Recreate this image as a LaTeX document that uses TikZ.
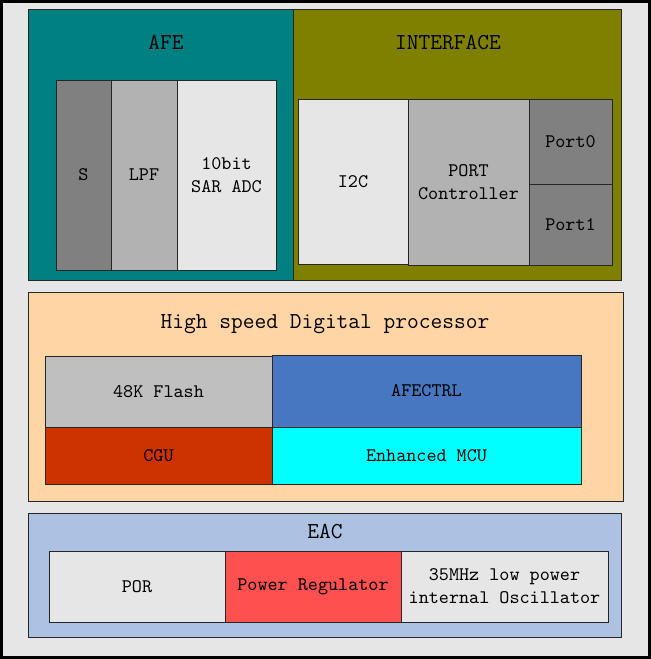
\documentclass[tikz,border=0pt]{standalone}
\usepackage{tikz}
\definecolor{bggray}{HTML}{E6E6E6}
\definecolor{afeteal}{HTML}{008080}
\definecolor{ifolive}{HTML}{808000}
\definecolor{dspeach}{HTML}{FFD5A5}
\definecolor{eacblue}{HTML}{ADC2E3}
\definecolor{flashgray}{HTML}{BFBFBF}
\definecolor{cgured}{HTML}{CC3300}
\definecolor{ctrlblue}{HTML}{4677C0}
\definecolor{mcucyan}{HTML}{00FFFF}
\definecolor{prred}{HTML}{FF5050}
\tikzset{
  blk/.style 2 args={draw=black!85,line width=0.5pt,inner sep=0pt,outer sep=0pt,anchor=north west,align=center,
    minimum width=#1*0.5pt,minimum height=#2*0.5pt,font=\ttfamily\fontsize{9.6}{11.5}\selectfont},
  ttl/.style={inner sep=0pt,font=\ttfamily\fontsize{11.4}{13}\selectfont}
}
\begin{document}
\begin{tikzpicture}[x=0.5pt,y=-0.5pt]
      \useasboundingbox (0,0) rectangle (651,659);
      \draw[line width=1.6pt,fill=bggray] (1.6,1.6) rectangle (649.4,657.4);

      \node[blk={265}{271},fill=afeteal] (afe) at (28,9) {};
      \node[blk={328}{271},fill=ifolive] (iface) at (293,9) {};
      \node[ttl] (afet) at (166,42) {AFE};
      \node[ttl] (ifacet) at (448,43) {INTERFACE};
      \node[blk={55}{190},fill=gray] (s) at (56,80) {S};
      \node[blk={66}{190},fill=black!30] (lpf) at (s.north east) {LPF};
      \node[blk={99}{190},fill=bggray] (adc) at (lpf.north east) {10bit\\SAR ADC};
      \node[blk={110}{165},fill=bggray] (i2c) at (298,99) {I2C};
      \node[blk={121}{166},fill=black!30] (portc) at (i2c.north east) {PORT\\Controller};
      \node[blk={83}{85},fill=gray] (port0) at (portc.north east) {Port0};
      \node[blk={83}{81},fill=gray] (port1) at (port0.south west) {Port1};

      \node[blk={595}{209},fill=dspeach] (dsp) at (28,292) {};
      \node[ttl] (dspt) at (325,324) {High speed Digital processor};
      \node[blk={227}{71},fill=flashgray] (flash) at (45,356) {48K Flash};
      \node[blk={227}{57},fill=cgured] (cgu) at (flash.south west) {CGU};
      \node[blk={309}{72},fill=ctrlblue] (afectrl) at (272,355) {AFECTRL};
      \node[blk={309}{57},fill=mcucyan] (mcu) at (afectrl.south west) {Enhanced MCU};

      \node[blk={593}{124},fill=eacblue] (eac) at (28,513) {};
      \node[ttl] (eact) at (325,532) {EAC};
      \node[blk={176}{71},fill=bggray] (por) at (49,551) {POR};
      \node[blk={176}{71},fill=prred] (preg) at (por.north east) {Power Regulator};
      \node[blk={207}{71},fill=bggray] (osc) at (preg.north east) {35MHz low power\\internal Oscillator};
    \end{tikzpicture}
\end{document}
